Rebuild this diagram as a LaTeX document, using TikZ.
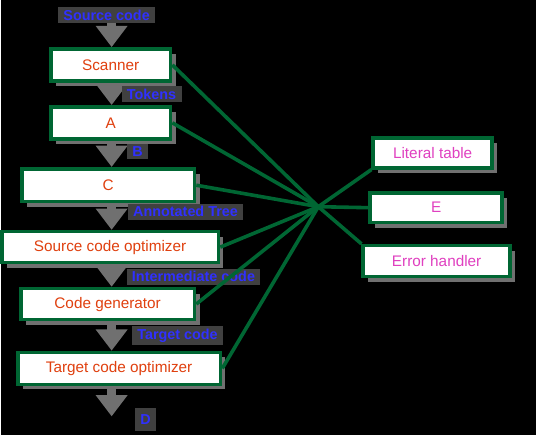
\documentclass[tikz,border=0pt]{standalone}
\usepackage{fontspec}
\setmainfont{Liberation Sans}
\usetikzlibrary{shadows,arrows.meta}
\definecolor{edgegreen}{HTML}{006633}
\definecolor{stagered}{HTML}{E0400F}
\definecolor{tablepink}{HTML}{E040C0}
\definecolor{labelblue}{HTML}{3030FF}
\definecolor{labelgray}{HTML}{404040}
\definecolor{flowgray}{HTML}{707070}
\pgfdeclarelayer{bg}
\pgfsetlayers{bg,main}

\begin{document}
\begin{tikzpicture}[x=0.75pt,y=-0.75pt,
    box/.style={draw=edgegreen,line width=2.7pt,fill=white,inner sep=0pt,
      drop shadow={shadow xshift=3.75pt,shadow yshift=-3.75pt,fill=flowgray,opacity=1},
      font=\fontsize{11.5}{13}\selectfont},
    stage/.style={box,text=stagered},
    tbl/.style={box,text=tablepink},
    lbl/.style={fill=labelgray,text=labelblue,inner xsep=4pt,inner ysep=2pt,
      font=\fontsize{10.8}{12}\selectfont\bfseries},
    flow/.style={draw=flowgray,line width=6.75pt,-{Triangle[width=23pt,length=16pt]}},
    link/.style={draw=edgegreen,line width=2.7pt}]
  \begin{pgfonlayer}{bg}
    \fill[black] (0,0) rectangle (536,436);
  \end{pgfonlayer}
  \coordinate (spine) at (111,0);
  \coordinate (hub) at (318,207);
  \coordinate (out) at (111,417);
  % phases
  \node[stage,minimum width=90pt,minimum height=24pt] (scanner) at (110,65) {Scanner};
  \node[stage,minimum width=90pt,minimum height=24pt] (a) at (110,123) {A};
  \node[stage,minimum width=129.75pt,minimum height=24.75pt] (c) at (107.5,185.5) {C};
  \node[stage,minimum width=162.75pt,minimum height=23.25pt] (sco) at (109.5,247.5) {Source code optimizer};
  \node[stage,minimum width=130.5pt,minimum height=23.25pt] (cg) at (107,304.5) {Code generator};
  \node[stage,minimum width=152.25pt,minimum height=24pt] (tco) at (118.5,369) {Target code optimizer};
  % tables
  \node[tbl,minimum width=89.25pt,minimum height=22.5pt] (lit) at (432.5,153) {Literal table};
  \node[tbl,minimum width=99pt,minimum height=22.5pt] (e) at (436,208) {E};
  \node[tbl,minimum width=110.25pt,minimum height=23.25pt] (err) at (436.5,261.5) {Error handler};
  % what flows between phases
  \node[lbl] (src) at (106,15) {Source code};
  \node[lbl] (tok) at (151,94) {Tokens};
  \node[lbl] (b) at (137,152) {B};
  \node[lbl] (tree) at (185,212) {Annotated Tree};
  \node[lbl] (ic) at (193,277) {Intermediate code};
  \node[lbl] (tc) at (177,336) {Target code};
  \node[lbl,inner ysep=5pt] (d) at (145,420) {D};
  \begin{pgfonlayer}{bg}
    \draw[flow] (src.south -| spine) -- (scanner.north -| spine);
    \draw[flow] (scanner.south -| spine) -- (a.north -| spine);
    \draw[flow] (a.south -| spine) -- (c.north -| spine);
    \draw[flow] (c.south -| spine) -- (sco.north -| spine);
    \draw[flow] (sco.south -| spine) -- (cg.north -| spine);
    \draw[flow] (cg.south -| spine) -- (tco.north -| spine);
    \draw[flow] (tco.south -| spine) -- (out);
  \end{pgfonlayer}
  \draw[link] (scanner.east) -- (hub);
  \draw[link] (a.east) -- (hub);
  \draw[link] (c.east) -- (hub);
  \draw[link] (sco.east) -- (hub);
  \draw[link] (cg.east) -- (hub);
  \draw[link] (tco.east) -- (hub);
  \draw[link] (hub) -- (lit.south west);
  \draw[link] (hub) -- (e.west);
  \draw[link] (hub) -- (err.north west);
\end{tikzpicture}
\end{document}
